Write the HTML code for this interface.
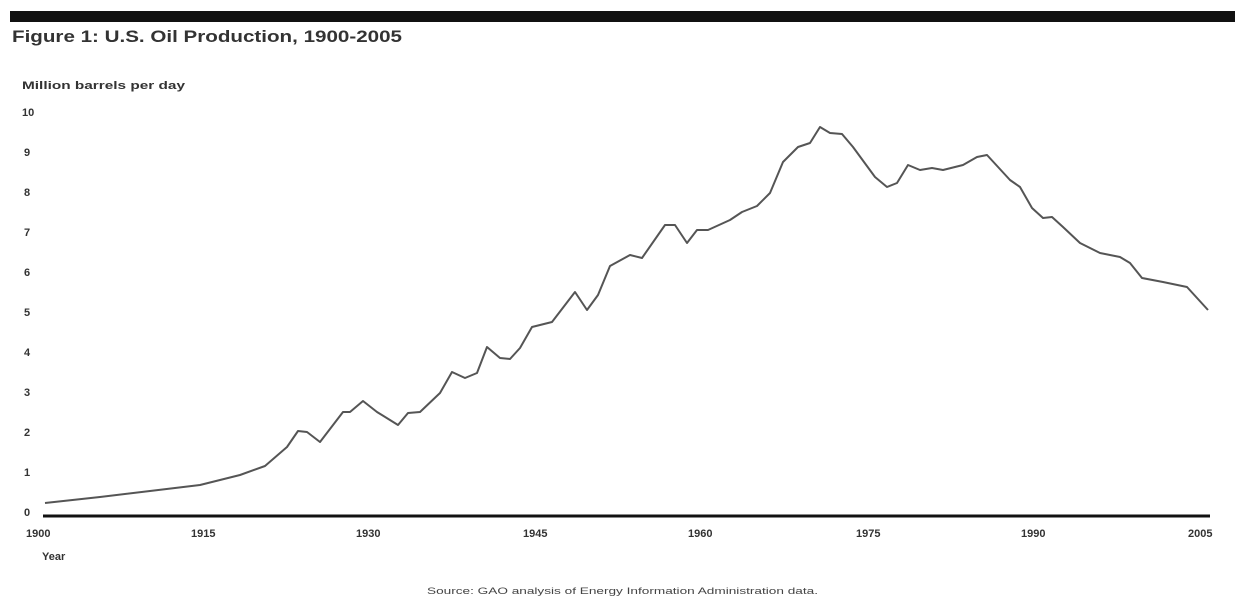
<!DOCTYPE html>
<html><head><meta charset="utf-8"><style>
html,body{margin:0;padding:0;background:#fff;}
body{width:1235px;height:605px;overflow:hidden;position:relative;font-family:"Liberation Sans",Arial,sans-serif;}
</style></head><body>
<svg width="1235" height="605" xmlns="http://www.w3.org/2000/svg" style="position:absolute;left:0;top:0">
<rect x="10" y="11" width="1225" height="11" fill="#111"/>
<text x="12" y="42" font-size="17" font-weight="bold" fill="#333" textLength="390" lengthAdjust="spacingAndGlyphs">Figure 1: U.S. Oil Production, 1900-2005</text>
<text x="22" y="89" font-size="11" font-weight="bold" fill="#333" textLength="163" lengthAdjust="spacingAndGlyphs">Million barrels per day</text>
<g font-size="11" font-weight="bold" fill="#333">
<text x="22" y="116">10</text>
<text x="24" y="156">9</text>
<text x="24" y="196">8</text>
<text x="24" y="236">7</text>
<text x="24" y="276">6</text>
<text x="24" y="316">5</text>
<text x="24" y="356">4</text>
<text x="24" y="396">3</text>
<text x="24" y="436">2</text>
<text x="24" y="476">1</text>
<text x="24" y="516">0</text>
<text x="26" y="537">1900</text>
<text x="191" y="537">1915</text>
<text x="356" y="537">1930</text>
<text x="523" y="537">1945</text>
<text x="688" y="537">1960</text>
<text x="856" y="537">1975</text>
<text x="1021" y="537">1990</text>
<text x="1188" y="537">2005</text>
<text x="42" y="560">Year</text>
</g>
<text x="427" y="594" font-size="9" fill="#444" textLength="391" lengthAdjust="spacingAndGlyphs">Source: GAO analysis of Energy Information Administration data.</text>
<line x1="43" y1="516" x2="1210" y2="516" stroke="#111" stroke-width="3"/>
<polyline fill="none" stroke="#555" stroke-width="2" stroke-linejoin="round" points="45,503 100,497 150,491 200,485 240,475 265,466 287,447 298,431 307,432 320,442 343,412 350,412 363,401 377,412 398,425 408,413 420,412 440,393 452,372 465,378 477,373 487,347 500,358 510,359 520,348 532,327 552,322 575,292 587,310 598,295 610,266 630,255 642,258 665,225 675,225 687,243 697,230 708,230 730,220 742,212 757,206 770,193 783,162 798,147 810,143 820,127 830,133 842,134 853,147 875,177 887,187 897,183 908,165 920,170 932,168 943,170 963,165 977,157 987,155 1010,180 1020,187 1032,208 1043,218 1052,217 1063,227 1080,243 1100,253 1120,257 1130,263 1142,278 1163,282 1187,287 1208,310"/>
</svg>
</body></html>
